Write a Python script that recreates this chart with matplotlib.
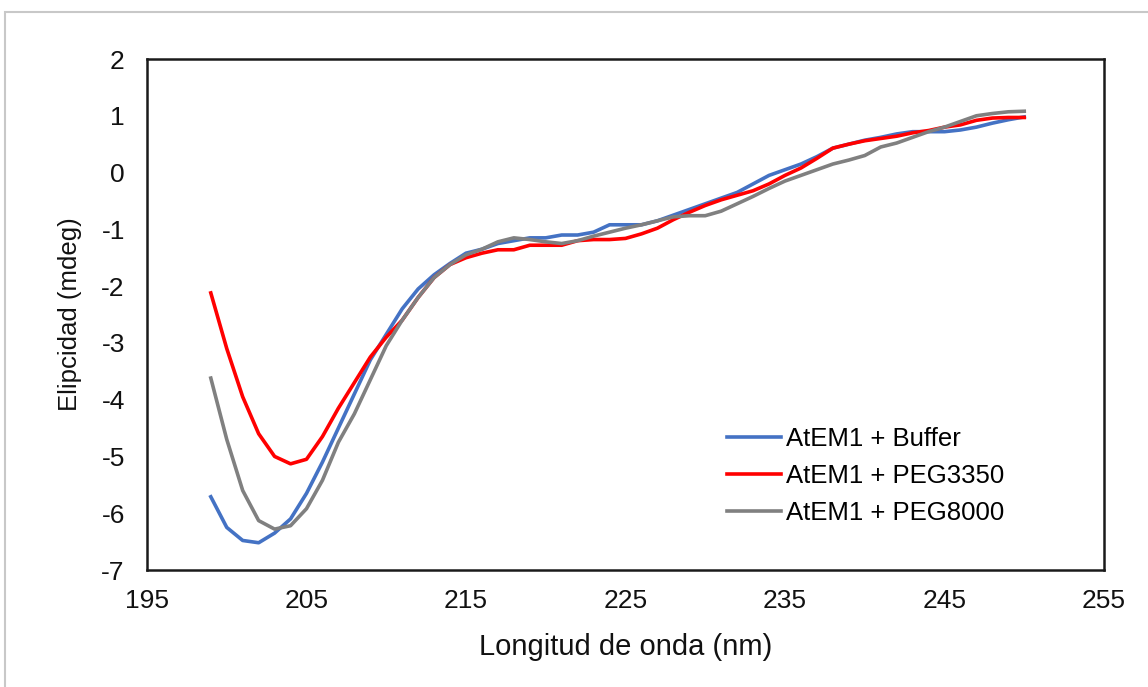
import matplotlib
matplotlib.use('Agg')
import matplotlib.pyplot as plt
import matplotlib.patches as patches
import numpy as np

plt.rcParams['font.family'] = ['Liberation Sans', 'DejaVu Sans']
plt.rcParams['axes.unicode_minus'] = False

### CD spectra of AtEM1 with crowding agents ###

wavelength = np.arange(199, 251)

buffer = [-5.71, -6.25, -6.48, -6.52, -6.35, -6.10, -5.65, -5.10, -4.50, -3.90,
          -3.30, -2.85, -2.40, -2.05, -1.80, -1.60, -1.42, -1.35, -1.25, -1.20,
          -1.15, -1.15, -1.10, -1.10, -1.05, -0.92, -0.92, -0.92, -0.85, -0.75,
          -0.65, -0.55, -0.45, -0.35, -0.20, -0.05, 0.05, 0.15, 0.28, 0.43,
          0.50, 0.57, 0.62, 0.68, 0.72, 0.72, 0.72, 0.75, 0.80, 0.87,
          0.93, 0.98]

peg3350 = [-2.12, -3.10, -3.95, -4.60, -5.00, -5.13, -5.05, -4.65, -4.15, -3.70,
           -3.25, -2.90, -2.60, -2.20, -1.85, -1.62, -1.50, -1.42, -1.36, -1.36,
           -1.28, -1.28, -1.28, -1.20, -1.18, -1.18, -1.16, -1.08, -0.98, -0.83,
           -0.70, -0.58, -0.48, -0.40, -0.32, -0.20, -0.05, 0.08, 0.25, 0.43,
           0.50, 0.56, 0.60, 0.64, 0.70, 0.74, 0.80, 0.84, 0.92, 0.96,
           0.97, 0.97]

peg8000 = [-3.62, -4.70, -5.60, -6.13, -6.28, -6.22, -5.92, -5.42, -4.75, -4.25,
           -3.65, -3.05, -2.60, -2.20, -1.85, -1.62, -1.45, -1.35, -1.22, -1.15,
           -1.18, -1.22, -1.25, -1.20, -1.12, -1.05, -0.98, -0.92, -0.85, -0.78,
           -0.76, -0.76, -0.68, -0.55, -0.42, -0.28, -0.15, -0.05, 0.05, 0.15,
           0.22, 0.30, 0.45, 0.52, 0.62, 0.72, 0.80, 0.90, 1.00, 1.04,
           1.07, 1.08]

labels = ['AtEM1 + Buffer', 'AtEM1 + PEG3350', 'AtEM1 + PEG8000']
colors = ['#4472c4', '#ff0000', '#808080']

W, H = 1148, 687
fig = plt.figure(figsize=(W / 100, H / 100), dpi=100)

# light grey outer border (only top and left visible)
fig.patches.append(patches.Rectangle((5 / W, -0.2), 1.2, 1.2 - 12 / H,
                                     transform=fig.transFigure, fill=False,
                                     edgecolor='#c8c8c8', linewidth=1.5))

ax = fig.add_axes([147 / W, 1 - 570 / H, (1104 - 147) / W, (570 - 59) / H])

for y, lab, col in zip([buffer, peg3350, peg8000], labels, colors):
    ax.plot(wavelength, y, color=col, linewidth=2.6, label=lab)

ax.set_xlim(195, 255)
ax.set_ylim(-7, 2)
ax.set_xticks(np.arange(195, 256, 10))
ax.set_yticks(np.arange(-7, 3, 1))
ax.tick_params(length=0, labelsize=19, colors='#111111')
ax.tick_params(axis='y', pad=16)
ax.tick_params(axis='x', pad=14)
for s in ax.spines.values():
    s.set_linewidth(1.8)
    s.set_color('#1a1a1a')

ax.set_xlabel('Longitud de onda (nm)', fontsize=21, labelpad=14, color='#111111')
ax.set_ylabel('Elipcidad (mdeg)', fontsize=18.5, labelpad=14, color='#111111')

ax.legend(loc='upper left', bbox_to_anchor=(727 / W, 1 - 427 / H),
          bbox_transform=fig.transFigure, frameon=False, fontsize=18.5,
          handlelength=2.1, handletextpad=0.2, labelspacing=0.5, borderpad=0,
          borderaxespad=0)

plt.savefig('out.png', dpi=100)
